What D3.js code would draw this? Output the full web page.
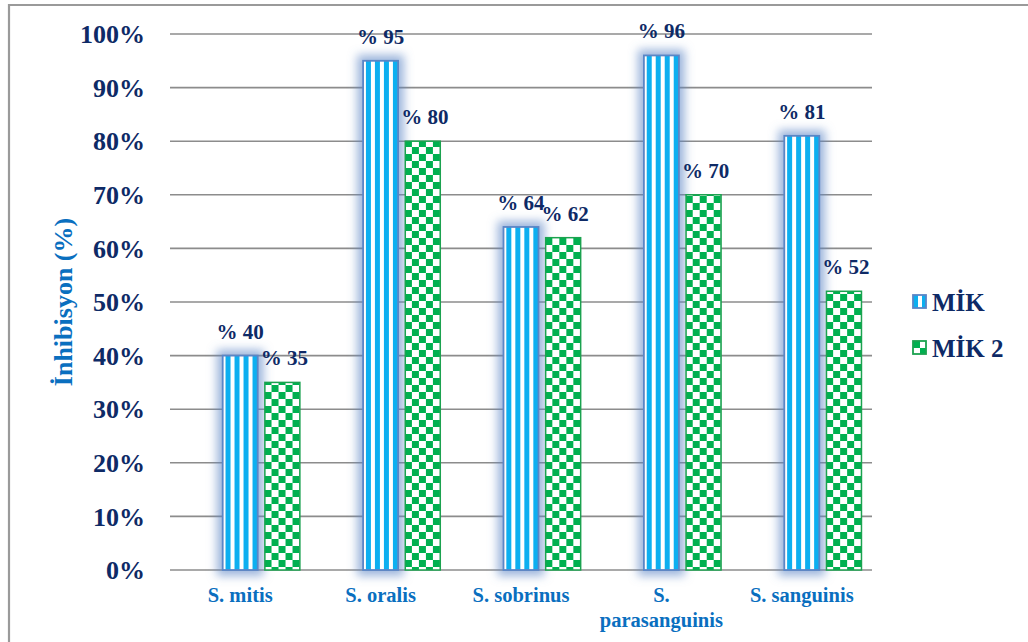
<!DOCTYPE html>
<html>
<head>
<meta charset="utf-8">
<script src="https://cdn.jsdelivr.net/npm/d3@7"></script>
<style>
  html, body { margin: 0; padding: 0; background: #fff; }
  svg { display: block; }
</style>
</head>
<body>
<svg id="chart" width="1028" height="642"></svg>
<script>
// Bacterial species (x categories)
const categories = ["S. mitis", "S. oralis", "S. sobrinus", "S. parasanguinis", "S. sanguinis"];
// Inhibition percentages per series
const mikValues  = [40, 95, 64, 96, 81];
const mik2Values = [35, 80, 62, 70, 52];
const seriesNames = ["MİK", "MİK 2"];
// Y axis ticks
const yTicks = [0, 10, 20, 30, 40, 50, 60, 70, 80, 90, 100];
const yTitle = "İnhibisyon (%)";

const svg = d3.select("#chart");
const navy = "#0E2A66";
const labelBlue = "#0A6FBF";
const FONT = '"Liberation Serif"';

const plot = { left: 170, right: 872, top: 34, bottom: 570 };

// Frame around the figure
svg.append("path")
  .attr("d", `M9,642 L9,5 L1028,5`)
  .attr("fill", "none").attr("stroke", "#9a9a9a").attr("stroke-width", 2.2);

const defs = svg.append("defs");
// vertical stripe fill
const stripe = defs.append("pattern").attr("id", "stripes")
  .attr("patternUnits", "userSpaceOnUse").attr("width", 9).attr("height", 9);
stripe.append("rect").attr("width", 9).attr("height", 9).attr("fill", "#ffffff");
stripe.append("rect").attr("x", 0).attr("width", 5).attr("height", 9).attr("fill", "#0BAFF0");
// checkerboard fill
const check = defs.append("pattern").attr("id", "checks")
  .attr("patternUnits", "userSpaceOnUse").attr("width", 14).attr("height", 14);
check.append("rect").attr("width", 14).attr("height", 14).attr("fill", "#ffffff");
check.append("rect").attr("x", 0).attr("y", 0).attr("width", 7).attr("height", 7).attr("fill", "#00B050");
check.append("rect").attr("x", 7).attr("y", 7).attr("width", 7).attr("height", 7).attr("fill", "#00B050");
// soft glow around the striped bars
const glow = defs.append("filter").attr("id", "glow")
  .attr("x", "-80%").attr("y", "-40%").attr("width", "260%").attr("height", "180%");
glow.append("feMorphology").attr("in", "SourceAlpha").attr("operator", "dilate").attr("radius", 5).attr("result", "d");
glow.append("feGaussianBlur").attr("in", "d").attr("stdDeviation", 5).attr("result", "b");
glow.append("feFlood").attr("flood-color", "#5B84C4").attr("flood-opacity", 0.6).attr("result", "c");
glow.append("feComposite").attr("in", "c").attr("in2", "b").attr("operator", "in").attr("result", "g");
const gm = glow.append("feMerge");
gm.append("feMergeNode").attr("in", "g");
gm.append("feMergeNode").attr("in", "SourceGraphic");

const y = d3.scaleLinear().domain([0, 100]).range([plot.bottom, plot.top]);
const x0 = d3.scaleBand().domain(categories).range([plot.left, plot.right])
  .paddingInner(0.15).paddingOuter(0.075);
// three slots per category; the first slot is left empty
const slots = ["empty", ...seriesNames];
const x1 = d3.scaleBand().domain(slots).range([0, x0.bandwidth()]).paddingInner(0.17);

// Gridlines
svg.append("g").selectAll("line").data(yTicks).join("line")
  .attr("x1", plot.left).attr("x2", plot.right)
  .attr("y1", d => y(d)).attr("y2", d => y(d))
  .attr("stroke", "#8c8c8c").attr("stroke-width", 1.6);

// Y tick labels
svg.append("g").selectAll("text").data(yTicks).join("text")
  .attr("x", 145).attr("y", d => y(d)).attr("dy", "0.35em")
  .attr("text-anchor", "end").attr("fill", navy).attr("font-size", 26)
  .style("font-family", FONT).style("font-weight", "bold")
  .text(d => d + "%");

// Y title
svg.append("text")
  .attr("transform", `translate(72,${(plot.top + plot.bottom) / 2}) rotate(-90)`)
  .attr("text-anchor", "middle").attr("fill", labelBlue).attr("font-size", 26)
  .style("font-family", FONT).style("font-weight", "bold")
  .text(yTitle);

const rows = categories.map((c, i) => ({ cat: c, vals: [mikValues[i], mik2Values[i]] }));
const groups = svg.append("g").selectAll("g").data(rows).join("g")
  .attr("transform", d => `translate(${x0(d.cat)},0)`);

// Striped bars (MİK)
groups.append("rect")
  .attr("x", x1(seriesNames[0])).attr("width", x1.bandwidth())
  .attr("y", d => y(d.vals[0])).attr("height", d => y(0) - y(d.vals[0]))
  .attr("fill", "url(#stripes)").attr("stroke", "#5A86C6").attr("stroke-width", 1.8)
  .attr("filter", "url(#glow)");

// Checkered bars (MİK 2)
groups.append("rect")
  .attr("x", x1(seriesNames[1])).attr("width", x1.bandwidth())
  .attr("y", d => y(d.vals[1])).attr("height", d => y(0) - y(d.vals[1]))
  .attr("fill", "url(#checks)").attr("stroke", "#1BA24F").attr("stroke-width", 1.5);

// Value labels
seriesNames.forEach((s, k) => {
  groups.append("text")
    .attr("x", x1(s) + x1.bandwidth() / 2 + (k === 1 ? 2 : 0))
    .attr("y", d => y(d.vals[k]) - 17)
    .attr("text-anchor", "middle").attr("fill", navy).attr("font-size", 21)
    .style("font-family", FONT).style("font-weight", "bold")
    .text(d => "% " + d.vals[k]);
});

// X category labels (wrapped when long)
svg.append("g").selectAll("text").data(categories).join("text")
  .attr("x", d => x0(d) + x0.bandwidth() / 2).attr("y", 602)
  .attr("text-anchor", "middle").attr("fill", labelBlue).attr("font-size", 20.5)
  .style("font-family", FONT).style("font-weight", "bold")
  .each(function (d) {
    const t = d3.select(this);
    const cx = x0(d) + x0.bandwidth() / 2;
    if (d.length > 14) {
      const parts = d.split(" ");
      t.append("tspan").attr("x", cx).attr("dy", 0).text(parts[0]);
      t.append("tspan").attr("x", cx).attr("dy", 25).text(parts.slice(1).join(" "));
    } else {
      t.text(d);
    }
  });

// Legend
const legend = svg.append("g").attr("transform", "translate(913,295)");
const legItems = [
  { name: seriesNames[0], fill: "url(#stripes)", stroke: "#5A86C6" },
  { name: seriesNames[1], fill: "url(#checks)", stroke: "#1BA24F" }
];
const li = legend.selectAll("g").data(legItems).join("g")
  .attr("transform", (d, i) => `translate(0,${i * 46})`);
li.append("rect").attr("width", 13).attr("height", 13)
  .attr("fill", d => d.fill).attr("stroke", d => d.stroke).attr("stroke-width", 1.8);
li.append("text").attr("x", 19).attr("y", 7).attr("dy", "0.36em")
  .attr("fill", navy).attr("font-size", 25)
  .style("font-family", FONT).style("font-weight", "bold")
  .text(d => d.name);
</script>
</body>
</html>
